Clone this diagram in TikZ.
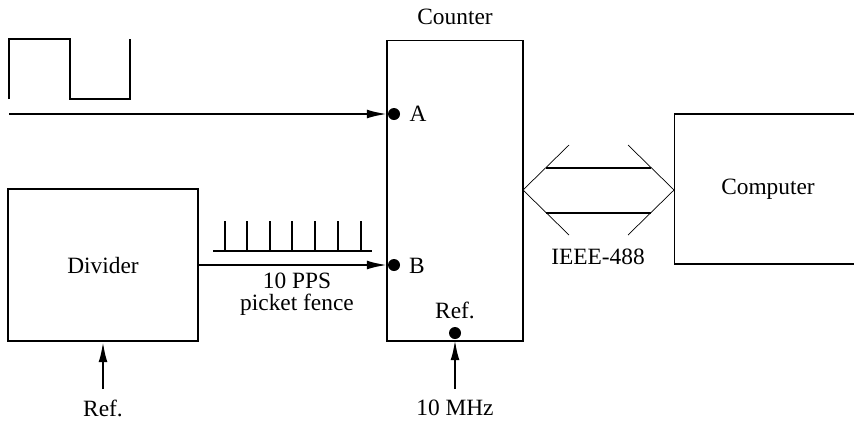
\documentclass[tikz,border=0pt]{standalone}
\usepackage{fontspec}
\setmainfont{Liberation Serif}
\usetikzlibrary{arrows.meta}

\begin{document}
\begin{tikzpicture}[x=0.02cm,y=-0.02cm,>={Latex[length=12pt,width=5pt]},
font=\fontsize{13.3}{15}\selectfont,
box/.style={draw,line width=0.6pt,inner sep=0pt,outer sep=0pt},
pindot/.style={circle,fill,inner sep=0pt,outer sep=0pt,minimum size=0.24cm},
sig/.style={->,line width=1.5pt},
wave/.style={line width=0.7pt},
bus/.style={line width=0.4pt}]
\useasboundingbox (0,0) rectangle (854,427);
% blocks
\node[box,minimum width=2.72cm,minimum height=6.02cm] (counter) at (455,190.5) {};
\node (countertxt) at (455,17) {Counter};
\node[box,minimum width=3.8cm,minimum height=3.04cm] (divider) at (103,265) {Divider};
\node[box,minimum width=3.76cm,minimum height=3.0cm] (computer) at (768,189) {Computer};
% counter inputs
\node[pindot] (pina) at (394,114) {};
\node[pindot] (pinb) at (394,265) {};
\node[pindot] (pinref) at (455,333) {};
\node (labela) at (418,114) {A};
\node (labelb) at (417,266) {B};
\node (labelref) at (455,310) {Ref.};
% signals
\coordinate (srca) at (9,114);
\draw[sig] (srca) -- (pina.west);
\draw[sig] (divider.east |- pinb) -- (pinb.west);
\coordinate (src10m) at (455,389);
\draw[sig] (src10m) -- (pinref.south);
\node (mhz) at (455,408) {10 MHz};
\coordinate (srcref) at (103,389);
\draw[sig] (srcref) -- (divider.south);
\node (divref) at (103,408) {Ref.};
\node[align=center,font=\fontsize{13.3}{12.5}\selectfont] (pps) at (297,294) {10 PPS\\picket fence};
% square wave
\draw[wave] (9,99) -- (9,39) -- (70,39) -- (70,99) -- (130,99) -- (130,39);
% picket fence
\draw[line width=1.1pt] (213,251) -- (372,251);
\foreach \x in {225,247,270,292,315,338,361}
  \draw[line width=1.1pt] (\x,251) -- (\x,221);
% IEEE-488 bus
\coordinate (busl) at (counter.east |- 0,190);
\coordinate (busr) at (computer.west |- 0,190);
\draw[bus] (569,145) -- (busl) -- (569,235);
\draw[bus] (628,145) -- (busr) -- (628,235);
\draw[line width=1.3pt] (546,168) -- (651,168);
\draw[line width=1.3pt] (546,213) -- (651,213);
\node (ieee) at (598,257) {IEEE-488};
\end{tikzpicture}
\end{document}
